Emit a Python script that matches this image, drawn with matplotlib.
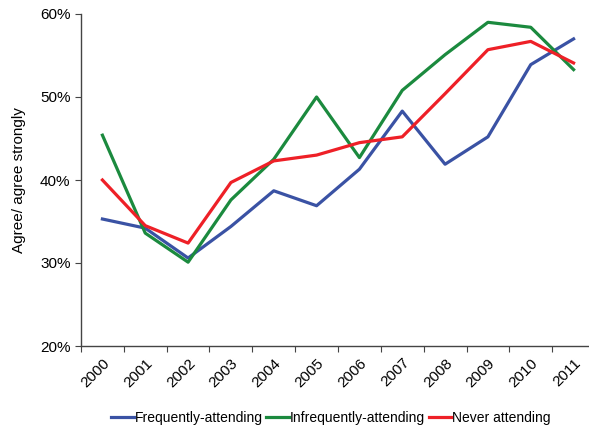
import matplotlib
matplotlib.use("Agg")
import matplotlib.pyplot as plt
from matplotlib.ticker import FuncFormatter

plt.rcParams['font.family'] = ['Liberation Sans', 'DejaVu Sans']

years = ['2000', '2001', '2002', '2003', '2004', '2005',
         '2006', '2007', '2008', '2009', '2010', '2011']
frequent = [35.3, 34.2, 30.6, 34.4, 38.7, 36.9, 41.3, 48.3, 41.9, 45.2, 53.9, 57.0]
infrequent = [45.4, 33.6, 30.1, 37.6, 42.5, 50.0, 42.7, 50.8, 55.1, 59.0, 58.4, 53.3]
never = [40.0, 34.5, 32.4, 39.7, 42.3, 43.0, 44.5, 45.2, 50.4, 55.7, 56.7, 54.1]

fig = plt.figure(figsize=(5.89, 4.30), dpi=100)
ax = fig.add_axes([81/589, 1 - 346/430, 514/589, 332/430])

x = range(len(years))
ax.plot(x, frequent, color='#3a52a4', lw=2.3, label='Frequently-attending')
ax.plot(x, infrequent, color='#1b8a3e', lw=2.3, label='Infrequently-attending')
ax.plot(x, never, color='#ee2027', lw=2.3, label='Never attending')

ax.set_xlim(-0.5, len(years) - 0.5)
ax.set_ylim(20, 60)
ax.set_yticks([20, 30, 40, 50, 60])
ax.yaxis.set_major_formatter(FuncFormatter(lambda v, p: f'{v:.0f}%'))
ax.set_xticks([i - 0.5 for i in range(len(years) + 1)], minor=False)
ax.set_xticklabels([''] * (len(years) + 1))
ax.set_xticks(list(x), minor=True)
ax.set_xticklabels(years, minor=True, rotation=45, ha='right', va='top',
                   rotation_mode='anchor', fontsize=11)
ax.tick_params(axis='x', which='minor', length=0, pad=7)
ax.tick_params(axis='both', which='major', length=4, color='#444444',
               labelsize=11, direction='out')

for s in ['top', 'right']:
    ax.spines[s].set_visible(False)
for s in ['left', 'bottom']:
    ax.spines[s].set_color('#444444')
    ax.spines[s].set_linewidth(1.0)

ax.set_ylabel('Agree/ agree strongly', fontsize=11, labelpad=10)

fig.legend(loc='center', bbox_to_anchor=(331/589, 1 - 418/430), ncol=3,
           frameon=False, fontsize=10, handlelength=1.6, handletextpad=0.1,
           columnspacing=0.25)

fig.savefig('out.png', dpi=100)
